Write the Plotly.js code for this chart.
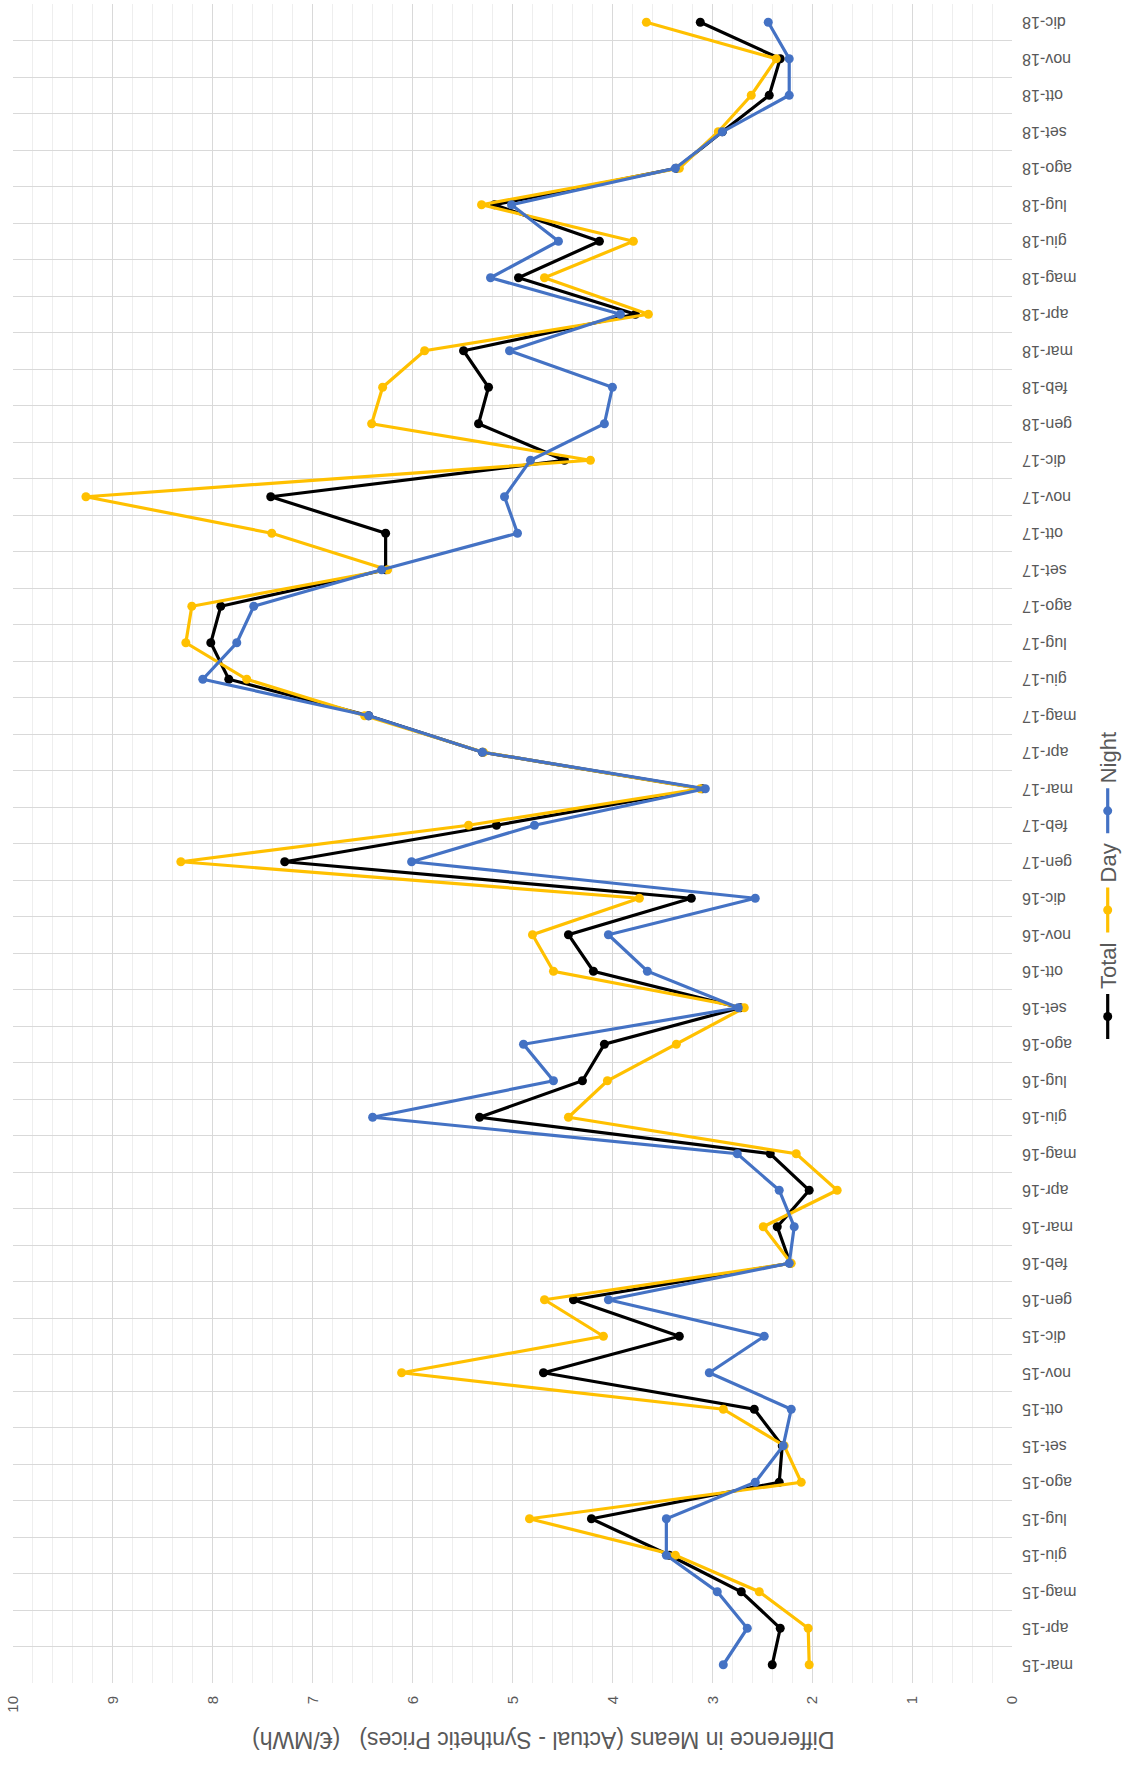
<!DOCTYPE html>
<html>
<head>
<meta charset="utf-8">
<script src="https://cdn.plot.ly/plotly-3.0.1.min.js"></script>
<style>
  html, body { margin: 0; padding: 0; background: #ffffff; overflow: hidden; }
  #wrap { position: absolute; left: 0; top: 0; width: 1133px; height: 1765px; overflow: hidden; }
  #chart { position: absolute; left: 0; top: 0; width: 1765px; height: 1133px;
           transform-origin: 0 0; transform: translate(0px, 1765px) rotate(-90deg); }
</style>
</head>
<body>
<div id="wrap"><div id="chart"></div></div>
<script>
const months = ["mar-15","apr-15","mag-15","giu-15","lug-15","ago-15","set-15","ott-15","nov-15","dic-15",
  "gen-16","feb-16","mar-16","apr-16","mag-16","giu-16","lug-16","ago-16","set-16","ott-16","nov-16","dic-16",
  "gen-17","feb-17","mar-17","apr-17","mag-17","giu-17","lug-17","ago-17","set-17","ott-17","nov-17","dic-17",
  "gen-18","feb-18","mar-18","apr-18","mag-18","giu-18","lug-18","ago-18","set-18","ott-18","nov-18","dic-18"];

const totalValues = [2.40,2.32,2.71,3.43,4.21,2.33,2.30,2.58,4.69,3.33,
  4.39,2.22,2.35,2.03,2.42,5.33,4.30,4.08,2.72,4.19,4.44,3.21,
  7.28,5.16,3.10,5.30,6.44,7.84,8.02,7.92,6.27,6.27,7.42,4.48,
  5.34,5.24,5.49,3.77,4.94,4.13,5.18,3.36,2.90,2.43,2.32,3.12];

const dayValues = [2.03,2.04,2.53,3.37,4.83,2.11,2.28,2.89,6.11,4.09,
  4.68,2.21,2.49,1.75,2.16,4.44,4.05,3.36,2.68,4.59,4.80,3.73,
  8.32,5.44,3.12,5.29,6.48,7.66,8.27,8.21,6.25,7.41,9.27,4.22,
  6.41,6.30,5.88,3.64,4.68,3.79,5.31,3.33,2.94,2.61,2.36,3.66];

const nightValues = [2.89,2.65,2.95,3.46,3.46,2.57,2.29,2.21,3.03,2.48,
  4.04,2.23,2.18,2.33,2.75,6.40,4.59,4.89,2.74,3.65,4.04,2.57,
  6.01,4.78,3.07,5.30,6.44,8.10,7.76,7.59,6.31,4.95,5.08,4.82,
  4.08,4.00,5.03,3.92,5.22,4.54,5.01,3.37,2.90,2.23,2.23,2.44];

const seriesNames = ["Total","Day","Night"];
const seriesColors = ["#000000","#FFC000","#4472C4"];
const valueTicks = [0,1,2,3,4,5,6,7,8,9,10];
const valueAxisTitle = "Difference in Means (Actual - Synthetic Prices)\u00a0\u00a0 (€/MWh)";

const allValues = [totalValues, dayValues, nightValues];
const traces = allValues.map((vals, k) => ({
  type: "scatter",
  mode: "lines+markers",
  name: seriesNames[k],
  x: months,
  y: vals,
  line: { color: seriesColors[k], width: 3.2 },
  marker: { color: seriesColors[k], size: 9, symbol: "circle" },
  cliponaxis: false
}));

const layout = {
  width: 1765,
  height: 1133,
  margin: { l: 82, r: 4, t: 13, b: 113 },
  paper_bgcolor: "#ffffff",
  plot_bgcolor: "#ffffff",
  font: { family: "Liberation Sans, Arial, sans-serif", color: "#595959" },
  showlegend: true,
  legend: {
    orientation: "h",
    x: 0.475, xanchor: "center",
    y: -0.096, yanchor: "middle",
    font: { size: 22, color: "#595959" },
    itemwidth: 45,
    traceorder: "normal"
  },
  xaxis: {
    type: "category",
    categoryorder: "array",
    categoryarray: months,
    range: [-0.5, 45.5],
    tickson: "boundaries",
    ticks: "",
    ticklabelstandoff: 6,
    showgrid: true,
    gridcolor: "#d9d9d9",
    gridwidth: 1,
    tickangle: -90,
    tickfont: { size: 16, color: "#595959" },
    showline: false,
    zeroline: false,
    automargin: false
  },
  yaxis: {
    range: [0, 10],
    tickvals: valueTicks,
    ticks: "",
    ticklabelstandoff: 12,
    showgrid: true,
    gridcolor: "#d9d9d9",
    gridwidth: 1,
    minor: { dtick: 0.2, showgrid: true, gridcolor: "#eeeeee", gridwidth: 1 },
    zeroline: false,
    showline: false,
    tickfont: { size: 15, color: "#595959" },
    automargin: false
  },
  annotations: [{
    text: valueAxisTitle,
    xref: "paper", yref: "paper",
    x: -0.0334, y: 0.469,
    xanchor: "center", yanchor: "middle",
    textangle: -90,
    showarrow: false,
    font: { size: 23, color: "#595959" }
  }]
};

Plotly.newPlot("chart", traces, layout, { staticPlot: true, displayModeBar: false });
</script>
</body>
</html>
